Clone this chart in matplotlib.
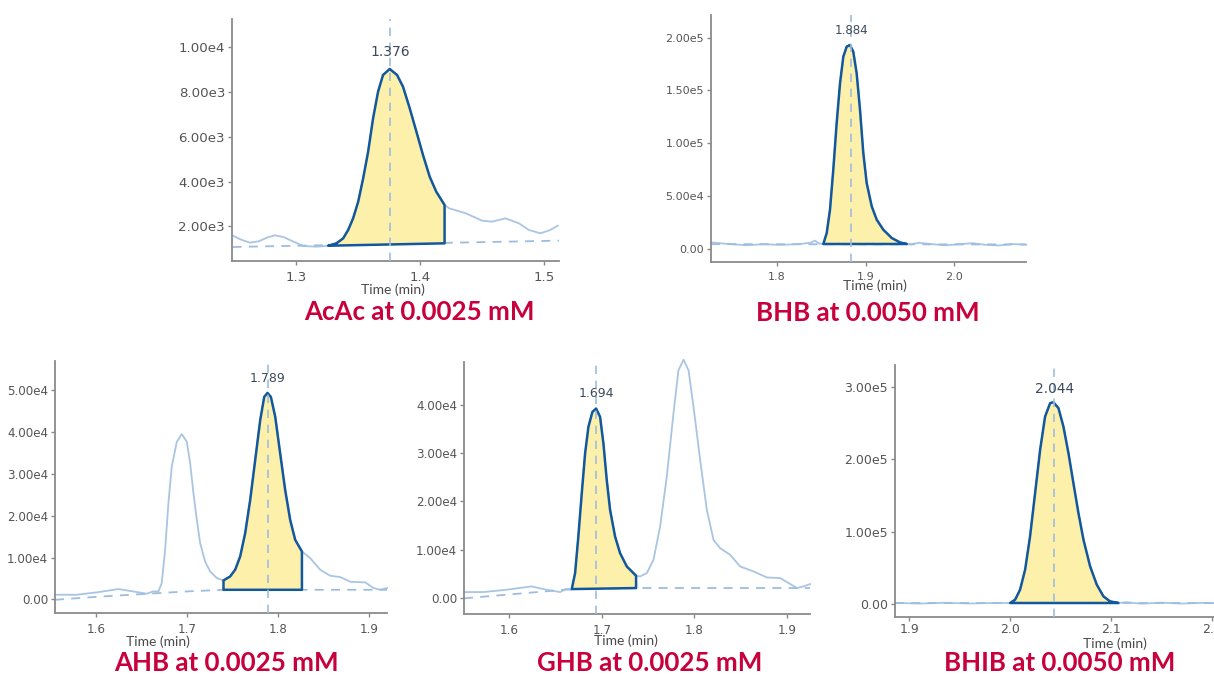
import matplotlib
matplotlib.use("Agg")
import matplotlib.pyplot as plt
import numpy as np
from matplotlib.ticker import FuncFormatter

# ---------------- data ----------------
# AcAc
acac_left_t = [1.2497, 1.256, 1.263, 1.270, 1.277, 1.283, 1.290, 1.298, 1.306, 1.3166, 1.322]
acac_left_y = [1568, 1400, 1270, 1330, 1500, 1598, 1520, 1315, 1120, 1090, 1110]
acac_peak_t = [1.326, 1.3327, 1.3381, 1.3421, 1.3461, 1.3502, 1.3542, 1.3582, 1.3622,
               1.3662, 1.3702, 1.3756, 1.3815, 1.3863, 1.3917, 1.3971, 1.4024, 1.4078,
               1.4131, 1.4198]
acac_peak_y = [1133, 1240, 1464, 1835, 2357, 3100, 4145, 5334, 6827,
               8015, 8762, 9030, 8762, 8239, 7274, 6228, 5187, 4217,
               3546, 2952]
acac_right_t = [1.4235, 1.437, 1.450, 1.458, 1.469, 1.4797, 1.4877, 1.497, 1.505, 1.511]
acac_right_y = [2805, 2580, 2253, 2208, 2357, 2134, 1836, 1687, 1836, 2030]
acac_base_t = [1.249, 1.512]
acac_base_y = [1076, 1360]
acac_area_base = [1133, 1240]
acac_apex = 1.376

# BHB
bhb_left_t = [1.726, 1.745, 1.765, 1.785, 1.805, 1.825, 1.838, 1.843, 1.848, 1.8525]
bhb_left_y = [6000, 4500, 3300, 4200, 3600, 4400, 5600, 7600, 4800, 4450]
bhb_peak_t = [1.8525, 1.8563, 1.860, 1.8637, 1.8675, 1.8713, 1.875, 1.8788, 1.8825,
              1.8862, 1.890, 1.8938, 1.8975, 1.9013, 1.907, 1.9126, 1.920, 1.9295,
              1.9388, 1.9464]
bhb_peak_y = [4450, 14860, 36900, 74770, 118960, 156800, 182000, 191460, 193070,
              186730, 166280, 131550, 90570, 62180, 40030, 27450, 17980, 10120,
              5960, 4450]
bhb_right_t = [1.952, 1.96, 1.975, 1.99, 2.005, 2.02, 2.035, 2.05, 2.065, 2.081]
bhb_right_y = [4200, 5600, 4300, 3200, 4200, 5200, 3700, 3000, 4400, 3800]
bhb_base_t = [1.726, 2.081]
bhb_base_y = [4300, 4000]
bhb_area_base = [4450, 4450]
bhb_apex = 1.884

# AHB
ahb_left_t = [1.5553, 1.579, 1.601, 1.625, 1.641, 1.656, 1.663, 1.6689, 1.6725, 1.6762,
              1.6798, 1.6835, 1.689, 1.6945, 1.700, 1.7037, 1.7073, 1.711, 1.7147,
              1.7201, 1.7256, 1.733]
ahb_left_y = [1113, 1100, 1670, 2460, 1900, 1350, 1900, 1900, 3900, 11850,
              22980, 31720, 37680, 39510, 37680, 32520, 25370, 19000, 13440,
              9060, 6670, 5090]
ahb_peak_t = [1.7403, 1.7476, 1.7531, 1.7586, 1.7641, 1.7696, 1.7751, 1.7806, 1.785,
              1.7886, 1.7923, 1.7971, 1.8025, 1.808, 1.8135, 1.819, 1.8264]
ahb_peak_y = [4530, 5480, 7080, 10250, 15820, 23770, 33310, 42850, 48410,
              49360, 48410, 43640, 34910, 26160, 19000, 14230, 11440]
ahb_right_t = [1.8355, 1.8465, 1.8575, 1.8685, 1.8795, 1.896, 1.905, 1.9125, 1.9198]
ahb_right_y = [9860, 7070, 5640, 5330, 4210, 4050, 2700, 2300, 2700]
ahb_base_t = [1.5553, 1.60, 1.65, 1.70, 1.7403, 1.8264, 1.9198]
ahb_base_y = [-100, 600, 1250, 1900, 2290, 2290, 2290]
ahb_area_base = [2290, 2290]
ahb_apex = 1.789

# GHB
ghb_left_t = [1.551, 1.572, 1.597, 1.624, 1.640, 1.655, 1.661, 1.666]
ghb_left_y = [1300, 1300, 1780, 2470, 1780, 1300, 1920, 1780]
ghb_peak_t = [1.6675, 1.6711, 1.6746, 1.6783, 1.6819, 1.6855, 1.6898, 1.6938, 1.6981,
              1.7017, 1.7053, 1.7089, 1.7143, 1.7197, 1.727, 1.737]
ghb_peak_y = [1920, 5220, 12760, 21680, 29920, 35400, 38480, 39170, 37450,
              31970, 24420, 18250, 12760, 9330, 6580, 4665]
ghb_right_t = [1.7414, 1.7486, 1.7558, 1.763, 1.7702, 1.7774, 1.7828, 1.7883, 1.7937,
               1.7991, 1.8063, 1.8135, 1.8207, 1.8279, 1.8387, 1.8495, 1.864, 1.8784,
               1.8929, 1.9019, 1.9108, 1.918, 1.925]
ghb_right_y = [4530, 5220, 7960, 14820, 25110, 38150, 47060, 49260, 47060,
               39510, 28540, 18250, 12070, 10360, 8990, 6580, 5560, 4320,
               4180, 3160, 2130, 2470, 2950]
ghb_base_t = [1.551, 1.6675, 1.737, 1.925]
ghb_base_y = [0, 1920, 2130, 2130]
ghb_area_base = [1920, 2130]
ghb_apex = 1.694

# BHIB
bhib_left_t = [1.8858, 1.91, 1.935, 1.96, 1.985, 2.0]
bhib_left_y = [1600, 600, 1700, 700, 1500, 1400]
bhib_peak_t = [2.0, 2.005, 2.0099, 2.0149, 2.0198, 2.0248, 2.0298, 2.0347, 2.0397, 2.043,
               2.048, 2.0529, 2.0579, 2.0628, 2.0678, 2.0728, 2.0794, 2.086, 2.0926,
               2.0992, 2.1075]
bhib_peak_y = [1400, 5980, 19790, 47400, 93390, 153260, 213070, 259080, 277540, 278920,
               270640, 245260, 208470, 167060, 125650, 88810, 51950, 26690, 10540,
               3630, 1400]
bhib_right_t = [2.115, 2.13, 2.15, 2.17, 2.19, 2.21]
bhib_right_y = [2500, 500, 1900, 600, 1600, 1000]
bhib_base_t = [1.8858, 2.21]
bhib_base_y = [1000, 1000]
bhib_area_base = [1400, 1400]
bhib_apex = 2.044

titles = ["AcAc at 0.0025 mM", "BHB at 0.0050 mM", "AHB at 0.0025 mM",
          "GHB at 0.0025 mM", "BHIB at 0.0050 mM"]

# ---------------- styling ----------------
W, H = 1214, 676
DARK = "#12589e"
LIGHT = "#a9c5e2"
DASH = "#9dbde0"
FILL = "#fdf0aa"
RED = "#c8003c"
TICKC = "#555555"

fig = plt.figure(figsize=(W / 100, H / 100), dpi=100)


def rect(l, r, t, b):
    return [l / W, 1 - b / H, (r - l) / W, (b - t) / H]


def sci(v, pos):
    if abs(v) < 1e-9:
        return "0.00"
    s = f"{v:.2e}"
    m, e = s.split("e")
    return f"{m}e{int(e)}"


panels = [
    dict(data=(acac_left_t, acac_left_y, acac_peak_t, acac_peak_y, acac_right_t, acac_right_y,
               acac_base_t, acac_base_y, acac_area_base, acac_apex),
         box=(232, 559, 19, 261), xlim=(1.2485, 1.512), ylim=(450, 11265),
         xt=[1.3, 1.4, 1.5], yt=[2000, 4000, 6000, 8000, 10000], fs=9.6, lfs=10.0,
         lab_y=9778, time=(393, 290), title=(419, 312), xpad=4),
    dict(data=(bhb_left_t, bhb_left_y, bhb_peak_t, bhb_peak_y, bhb_right_t, bhb_right_y,
               bhb_base_t, bhb_base_y, bhb_area_base, bhb_apex),
         box=(711, 1026, 15, 262), xlim=(1.726, 2.0807), ylim=(-12618, 221450),
         xt=[1.8, 1.9, 2.0], yt=[0, 50000, 100000, 150000, 200000], fs=8.0, lfs=8.6,
         lab_y=206600, time=(875, 286), title=(868, 313), xpad=4),
    dict(data=(ahb_left_t, ahb_left_y, ahb_peak_t, ahb_peak_y, ahb_right_t, ahb_right_y,
               ahb_base_t, ahb_base_y, ahb_area_base, ahb_apex),
         box=(55, 387, 361, 613), xlim=(1.5553, 1.9198), ylim=(-3259, 56995),
         xt=[1.6, 1.7, 1.8, 1.9], yt=[0, 10000, 20000, 30000, 40000, 50000], fs=8.6, lfs=9.0,
         lab_y=52800, time=(158, 642), title=(226, 663), xpad=4),
    dict(data=(ghb_left_t, ghb_left_y, ghb_peak_t, ghb_peak_y, ghb_right_t, ghb_right_y,
               ghb_base_t, ghb_base_y, ghb_area_base, ghb_apex),
         box=(464, 810, 362, 614), xlim=(1.551, 1.925), ylim=(-3225, 48782),
         xt=[1.6, 1.7, 1.8, 1.9], yt=[0, 10000, 20000, 30000, 40000], fs=8.6, lfs=9.0,
         lab_y=42260, time=(626, 641), title=(650, 663), xpad=4),
    dict(data=(bhib_left_t, bhib_left_y, bhib_peak_t, bhib_peak_y, bhib_right_t, bhib_right_y,
               bhib_base_t, bhib_base_y, bhib_area_base, bhib_apex),
         box=(895, 1214, 365, 617), xlim=(1.8858, 2.2023), ylim=(-17950, 330370),
         xt=[1.9, 2.0, 2.1, 2.2], yt=[0, 100000, 200000, 300000], fs=9.0, lfs=9.9,
         lab_y=296800, time=(1115, 644), title=(1060, 663), xpad=1.5),
]

for p, title in zip(panels, titles):
    lt, ly, pt, py, rt, ry, bt, by, ab, apex = p["data"]
    ax = fig.add_axes(rect(*p["box"]))
    ax.set_facecolor("white")
    # full trace
    tt = list(lt) + list(pt) + list(rt)
    yy = list(ly) + list(py) + list(ry)
    ax.plot(tt, yy, color=LIGHT, lw=1.3, zorder=2, clip_on=False,
            solid_joinstyle="round")
    # baseline
    ax.plot(bt, by, color=DASH, lw=1.3, ls=(0, (5, 4)), zorder=2)
    # integrated area
    px = list(pt) + [pt[-1], pt[0]]
    pyy = list(py) + [ab[1], ab[0]]
    ax.fill(px, pyy, facecolor=FILL, edgecolor=DARK, lw=1.8, zorder=3,
            joinstyle="round")
    # apex marker line
    ax.axvline(apex, color=DASH, lw=1.2, ls=(0, (5, 4)), zorder=4)
    ax.text(apex, p["lab_y"], f"{apex:.3f}", ha="center", va="center",
            fontsize=p["lfs"], color="#3b4a5c", zorder=5, family="DejaVu Sans")

    ax.set_xlim(*p["xlim"])
    ax.set_ylim(*p["ylim"])
    ax.set_xticks(p["xt"])
    ax.set_xticklabels([f"{v:.1f}" for v in p["xt"]])
    ax.set_yticks(p["yt"])
    ax.yaxis.set_major_formatter(FuncFormatter(sci))
    for s in ["top", "right"]:
        ax.spines[s].set_visible(False)
    for s in ["left", "bottom"]:
        ax.spines[s].set_color("#8a8a8a")
        ax.spines[s].set_linewidth(1.3)
    ax.tick_params(axis="both", direction="out", length=3, width=1,
                   color="#8a8a8a", labelcolor=TICKC, labelsize=p["fs"])
    ax.tick_params(axis="y", pad=2)
    ax.tick_params(axis="x", pad=p["xpad"])

    fig.text(p["time"][0] / W, 1 - p["time"][1] / H, "Time (min)", ha="center",
             va="center", fontsize=10, color="#4a4a4a", family="Lato")
    fig.text(p["title"][0] / W, 1 - p["title"][1] / H, title, ha="center",
             va="center", fontsize=18.6, color=RED, family="Lato", fontweight="bold")

fig.savefig("out.png", dpi=100, facecolor="white")
